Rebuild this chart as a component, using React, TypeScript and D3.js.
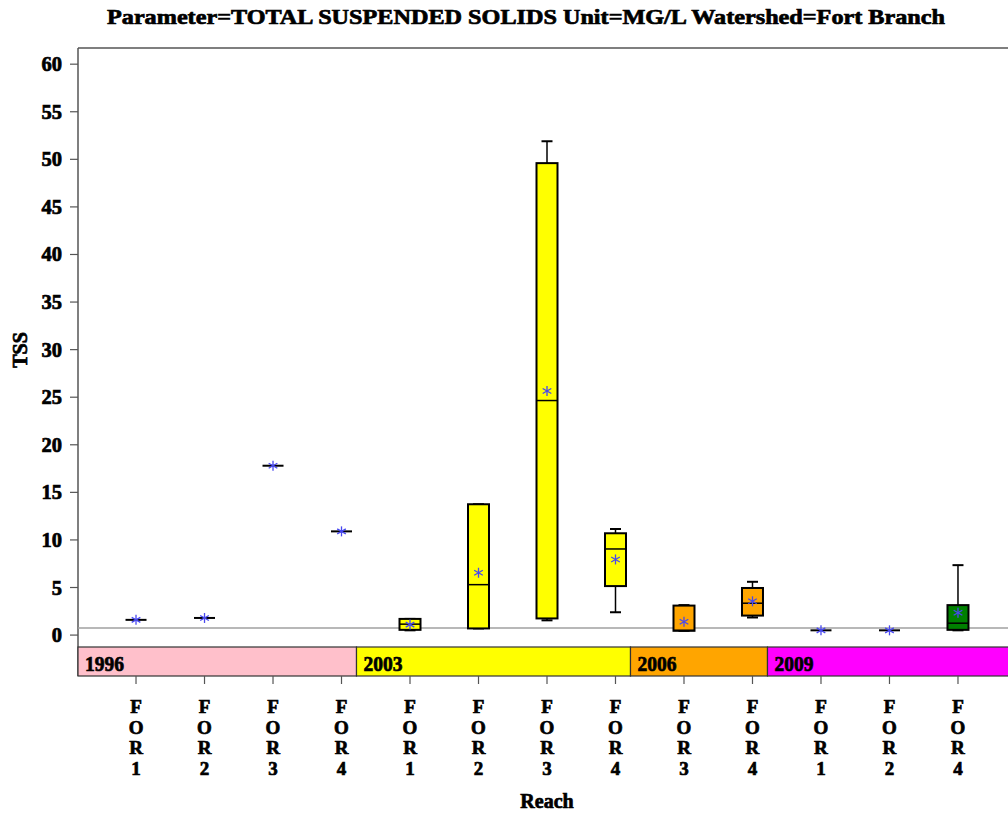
import React from "react";
import * as d3 from "d3";

const reaches = ["FOR1","FOR2","FOR3","FOR4","FOR1","FOR2","FOR3","FOR4","FOR3","FOR4","FOR1","FOR2","FOR4"];
const years = ["1996","1996","1996","1996","2003","2003","2003","2003","2006","2006","2009","2009","2009"];
const minV = [1.6,1.8,17.8,10.9,0.5,0.7,1.55,2.4,0.45,1.85,0.5,0.5,0.5];
const q1V = [1.6,1.8,17.8,10.9,0.55,0.7,1.75,5.15,0.45,2.05,0.5,0.5,0.55];
const medV = [1.6,1.8,17.8,10.9,1.15,5.3,24.65,9.05,0.5,3.35,0.5,0.5,1.25];
const q3V = [1.6,1.8,17.8,10.9,1.7,13.75,49.6,10.7,3.1,4.95,0.5,0.5,3.15];
const maxV = [1.6,1.8,17.8,10.9,1.7,13.75,51.9,11.15,3.15,5.6,0.5,0.5,7.35];
const meanV = [1.6,1.8,17.8,10.9,1.1,6.55,25.65,7.95,1.4,3.55,0.5,0.5,2.35];

const yearList = ["1996","2003","2006","2009"];
const bandColors = ["#FFC0CB","#FFFF00","#FFA500","#FF00FF"];
const boxFill: Record<string,string> = {"1996":"none","2003":"#FFFF00","2006":"#FFA500","2009":"#008000"};
const yTicks = [0,5,10,15,20,25,30,35,40,45,50,55,60];
const refValue = 0.75;

const FONT = "'Liberation Serif', 'DejaVu Serif', serif";

export default function App() {
  const W = 1008, H = 816;
  const left = 78, right = 1016, top = 48, bottom = 676;
  const bandTop = 647;
  const y = d3.scaleLinear().domain([-4.3, 61.7]).range([bottom, top]);
  const idx = reaches.map((_, i) => i);
  const x = d3.scalePoint<number>().domain(idx).range([left, right]).padding(0.847);
  const boxW = 21, capW = 11;
  const heavy = { stroke: "black", strokeWidth: 0.7 } as const;

  const bands = yearList.map((yr, k) => {
    const first = years.indexOf(yr);
    const last = years.lastIndexOf(yr);
    const x0 = k === 0 ? left : (x(first - 1) as number) + 15;
    const x1 = k === yearList.length - 1 ? right : (x(last) as number) + 15;
    return { yr, x0, x1, color: bandColors[k] };
  });

  const star = (cx: number, cy: number, key: string) => {
    const r = 5;
    const a = r * Math.sin(Math.PI / 3), b = r * Math.cos(Math.PI / 3);
    return (
      <g key={key} stroke="#4848f0" strokeWidth={1.3}>
        <line x1={cx} y1={cy - r} x2={cx} y2={cy + r} />
        <line x1={cx - a} y1={cy - b} x2={cx + a} y2={cy + b} />
        <line x1={cx - a} y1={cy + b} x2={cx + a} y2={cy - b} />
      </g>
    );
  };

  return (
    <svg width={W} height={H} style={{ position: "absolute", left: 0, top: 0 }} fontFamily={FONT}>
      <rect x={0} y={0} width={W} height={H} fill="white" />
      <text x={526} y={24} textAnchor="middle" fontSize={21} fontWeight="bold" textLength={838} lengthAdjust="spacingAndGlyphs" {...heavy}>
        {"Parameter=TOTAL  SUSPENDED  SOLIDS  Unit=MG/L  Watershed=Fort  Branch"}
      </text>
      {/* frame */}
      <line x1={left} y1={top} x2={W} y2={top} stroke="#555" strokeWidth={1.5} />
      <line x1={left} y1={top} x2={left} y2={bottom} stroke="#555" strokeWidth={1.5} />
      {/* y ticks */}
      {yTicks.map(t => (
        <g key={t}>
          <line x1={left - 8} x2={left} y1={y(t)} y2={y(t)} stroke="#555" strokeWidth={1.2} />
          <text x={62} y={y(t) + 7} textAnchor="end" fontSize={20.5} fontWeight="bold" {...heavy}>{t}</text>
        </g>
      ))}
      <text transform={`translate(27,350) rotate(-90)`} textAnchor="middle" fontSize={20} fontWeight="bold" {...heavy}>TSS</text>
      {/* reference line */}
      <line x1={left} x2={W} y1={y(refValue)} y2={y(refValue)} stroke="#a0a0a0" strokeWidth={1.5} />
      {/* boxes */}
      {idx.map(i => {
        const cx = x(i) as number;
        const fill = boxFill[years[i]];
        const single = q1V[i] === q3V[i];
        if (single) {
          return (
            <g key={i}>
              <line x1={cx - boxW / 2} x2={cx + boxW / 2} y1={y(medV[i])} y2={y(medV[i])} stroke="black" strokeWidth={2} />
              {star(cx, y(meanV[i]), "s" + i)}
            </g>
          );
        }
        return (
          <g key={i}>
            <line x1={cx} x2={cx} y1={y(maxV[i])} y2={y(q3V[i])} stroke="black" strokeWidth={1.5} />
            <line x1={cx} x2={cx} y1={y(q1V[i])} y2={y(minV[i])} stroke="black" strokeWidth={1.5} />
            <line x1={cx - capW / 2} x2={cx + capW / 2} y1={y(maxV[i])} y2={y(maxV[i])} stroke="black" strokeWidth={2} />
            <line x1={cx - capW / 2} x2={cx + capW / 2} y1={y(minV[i])} y2={y(minV[i])} stroke="black" strokeWidth={2} />
            <rect x={cx - boxW / 2} width={boxW} y={y(q3V[i])} height={y(q1V[i]) - y(q3V[i])} fill={fill} stroke="black" strokeWidth={2} />
            <line x1={cx - boxW / 2} x2={cx + boxW / 2} y1={y(medV[i])} y2={y(medV[i])} stroke="black" strokeWidth={1.5} />
            {star(cx, y(meanV[i]), "s" + i)}
          </g>
        );
      })}
      {/* year band */}
      {bands.map(b => (
        <g key={b.yr}>
          <rect x={b.x0} y={bandTop} width={b.x1 - b.x0} height={bottom - bandTop} fill={b.color} stroke="#333" strokeWidth={1.2} />
          <text x={b.x0 + 7} y={bandTop + 24} fontSize={21} fontWeight="bold" textLength={39} lengthAdjust="spacingAndGlyphs" {...heavy}>{b.yr}</text>
        </g>
      ))}
      {/* x ticks and labels */}
      {idx.map(i => {
        const cx = x(i) as number;
        const chars = ["F", "O", "R", reaches[i].slice(3)];
        return (
          <g key={"x" + i}>
            <line x1={cx} x2={cx} y1={bottom} y2={bottom + 8} stroke="#555" strokeWidth={1.2} />
            {chars.map((c, k) => (
              <text key={k} x={cx} y={713 + k * 20.5} textAnchor="middle" fontSize={19} fontWeight="bold" {...heavy}>{c}</text>
            ))}
          </g>
        );
      })}
      <text x={547} y={808} textAnchor="middle" fontSize={20} fontWeight="bold" {...heavy}>Reach</text>
    </svg>
  );
}
